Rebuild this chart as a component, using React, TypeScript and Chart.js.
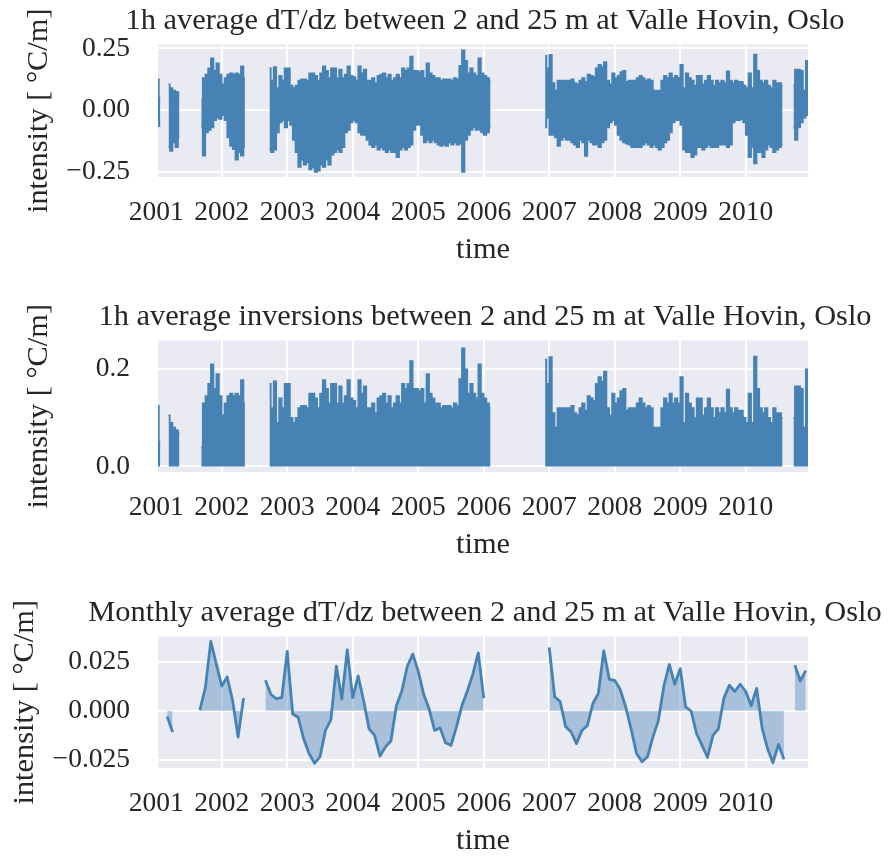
import React, { useEffect, useRef } from "react";
import { Chart, registerables } from "chart.js";

Chart.register(...registerables);

const FONT = "'Liberation Serif', 'Times New Roman', Times, serif";
const BLUE = "#4682b4";
const FILL = "rgba(70,130,180,0.4)";
const BG = "#eaeaf2";
const TEXT = "#262626";

const TITLE_TOP = "1h average dT/dz between 2 and 25 m at Valle Hovin, Oslo";
const TITLE_MID = "1h average inversions between 2 and 25 m at Valle Hovin, Oslo";
const TITLE_BOT = "Monthly average dT/dz between 2 and 25 m at Valle Hovin, Oslo";
const Y_LABEL = "intensity [ \u00b0C/m]";
const X_LABEL = "time";

const YEAR_TICKS = [2001, 2002, 2003, 2004, 2005, 2006, 2007, 2008, 2009, 2010];
const X_MIN = 2001.027;
const X_MAX = 2010.951;

// Hourly dT/dz, upper / lower envelope per half month (index k -> 2001 + (k + 0.5) / 24)
const gradHi2001 = [0.125, 0.05, null, null, 0.105, 0.09, 0.08, 0.075, 0.07, null, null, null, null, null, null, null, 0.04, 0.13, 0.145, 0.17, 0.21, 0.16, 0.19, 0.145];
const gradLo2001 = [-0.06, -0.065, null, null, -0.15, -0.165, -0.13, -0.15, -0.11, null, null, null, null, null, null, null, -0.07, -0.184, -0.09, -0.08, -0.07, -0.04, -0.03, -0.035];
const gradHi2002 = [0.105, 0.13, 0.145, 0.15, 0.145, 0.15, 0.145, 0.178, 0.13, null, null, null, null, null, null, null, null, 0.17, 0.12, 0.175, 0.09, 0.14, 0.12, 0.17];
const gradLo2002 = [-0.02, -0.04, -0.11, -0.145, -0.158, -0.2, -0.17, -0.184, -0.15, null, null, null, null, null, null, null, null, -0.16, -0.17, -0.16, -0.09, -0.05, -0.04, -0.07];
const gradHi2003 = [0.17, 0.1, 0.09, 0.1, 0.12, 0.125, 0.125, 0.12, 0.15, 0.15, 0.14, 0.12, 0.15, 0.178, 0.16, 0.13, 0.17, 0.17, 0.13, 0.165, 0.13, 0.145, 0.178, 0.14];
const gradLo2003 = [-0.04, -0.06, -0.12, -0.17, -0.23, -0.2, -0.22, -0.21, -0.24, -0.23, -0.25, -0.245, -0.22, -0.23, -0.2, -0.22, -0.18, -0.17, -0.16, -0.17, -0.15, -0.09, -0.08, -0.05];
const gradHi2004 = [0.135, 0.12, 0.178, 0.15, 0.165, 0.12, 0.12, 0.13, 0.11, 0.14, 0.145, 0.15, 0.13, 0.145, 0.12, 0.13, 0.145, 0.13, 0.17, 0.16, 0.17, 0.217, 0.16, 0.16];
const gradLo2004 = [-0.04, -0.05, -0.09, -0.1, -0.1, -0.12, -0.14, -0.15, -0.14, -0.16, -0.15, -0.16, -0.17, -0.16, -0.17, -0.17, -0.19, -0.16, -0.15, -0.16, -0.15, -0.14, -0.08, -0.06];
const gradHi2005 = [0.155, 0.16, 0.13, 0.19, 0.15, 0.14, 0.13, 0.13, 0.12, 0.125, 0.125, 0.125, 0.12, 0.13, 0.125, 0.18, 0.243, 0.2, 0.15, 0.17, 0.15, 0.14, 0.21, 0.15];
const gradLo2005 = [-0.06, -0.1, -0.13, -0.12, -0.13, -0.12, -0.13, -0.14, -0.145, -0.14, -0.145, -0.13, -0.14, -0.13, -0.14, -0.135, -0.25, -0.12, -0.1, -0.08, -0.07, -0.08, -0.08, -0.09];
const gradHi2006 = [0.14, 0.13, 0.12, null, null, null, null, null, null, null, null, null, null, null, null, null, null, null, null, null, null, null, 0.22, 0.17];
const gradLo2006 = [-0.1, -0.09, -0.07, null, null, null, null, null, null, null, null, null, null, null, null, null, null, null, null, null, null, null, -0.07, -0.03];
const gradHi2007 = [0.225, 0.11, 0.08, 0.12, 0.12, 0.12, 0.12, 0.12, 0.125, 0.11, 0.105, 0.12, 0.13, 0.115, 0.145, 0.14, 0.135, 0.17, 0.184, 0.175, 0.195, 0.12, 0.105, 0.15];
const gradLo2007 = [-0.1, -0.1, -0.11, -0.145, -0.12, -0.11, -0.12, -0.12, -0.13, -0.14, -0.15, -0.12, -0.13, -0.185, -0.12, -0.13, -0.14, -0.14, -0.15, -0.13, -0.12, -0.07, -0.05, -0.04];
const gradHi2008 = [0.13, 0.14, 0.155, 0.16, 0.115, 0.12, 0.12, 0.12, 0.13, 0.14, 0.13, 0.12, 0.125, 0.12, 0.08, 0.08, 0.08, 0.12, 0.14, 0.13, 0.15, 0.13, 0.14, 0.13];
const gradLo2008 = [-0.06, -0.1, -0.12, -0.13, -0.135, -0.14, -0.15, -0.15, -0.15, -0.15, -0.14, -0.13, -0.14, -0.15, -0.14, -0.15, -0.16, -0.15, -0.13, -0.12, -0.09, -0.05, -0.04, -0.04];
const gradHi2009 = [0.184, 0.09, 0.15, 0.13, 0.12, 0.1, 0.14, 0.14, 0.105, 0.12, 0.14, 0.12, 0.1, 0.12, 0.11, 0.12, 0.11, 0.158, 0.12, 0.11, 0.12, 0.115, 0.115, 0.1];
const gradLo2009 = [-0.06, -0.16, -0.17, -0.17, -0.19, -0.18, -0.15, -0.15, -0.16, -0.15, -0.14, -0.15, -0.15, -0.15, -0.14, -0.14, -0.14, -0.15, -0.14, -0.05, -0.04, -0.04, -0.035, -0.05];
const gradHi2010 = [0.09, 0.15, 0.09, 0.226, 0.16, 0.12, 0.11, 0.12, 0.1, 0.09, 0.12, 0.11, 0.11, 0.1, null, null, null, 0.1, 0.165, 0.165, 0.16, 0.08, 0.2, 0.2];
const gradLo2010 = [-0.1, -0.19, -0.15, -0.215, -0.17, -0.17, -0.19, -0.16, -0.14, -0.15, -0.17, -0.16, -0.15, -0.14, null, null, null, -0.07, -0.12, -0.07, -0.05, -0.03, -0.02, -0.02];

// Monthly averages of dT/dz (Jan..Dec)
const month2001 = [null, null, -0.0029, -0.0109, null, null, null, null, 0.0003, 0.0118, 0.0354, 0.0239];
const month2002 = [0.0126, 0.0172, 0.0051, -0.0135, 0.0064, null, null, null, 0.0155, 0.0084, 0.0061, 0.0067];
const month2003 = [0.0303, -0.0017, -0.0034, -0.0143, -0.0219, -0.0269, -0.0236, -0.0101, -0.0047, 0.0227, 0.0059, 0.0311];
const month2004 = [0.0067, 0.0177, 0.0051, -0.0093, -0.0126, -0.0232, -0.0185, -0.0155, 0.0025, 0.0101, 0.0227, 0.0289];
const month2005 = [0.0202, 0.0084, 0.0008, -0.0101, -0.0088, -0.0164, -0.0177, -0.0084, 0.0025, 0.0101, 0.0185, 0.0295];
const month2006 = [0.0064, null, null, null, null, null, null, null, null, null, null, null];
const month2007 = [0.0323, 0.0071, 0.0047, -0.0081, -0.0109, -0.0168, -0.0101, -0.0076, 0.0037, 0.0088, 0.0306, 0.016];
const month2008 = [0.0155, 0.0109, 0.002, -0.0093, -0.0219, -0.0261, -0.0236, -0.0135, -0.0051, 0.0126, 0.0236, 0.0135];
const month2009 = [0.0215, 0.002, -0.0003, -0.0118, -0.0177, -0.0239, -0.0126, -0.0093, 0.0064, 0.013, 0.0098, 0.0135];
const month2010 = [0.0098, 0.0025, 0.0114, -0.0088, -0.0194, -0.0266, -0.0172, -0.0249, null, 0.0232, 0.0152, 0.0205];

const gradHi = [gradHi2001, gradHi2002, gradHi2003, gradHi2004, gradHi2005, gradHi2006, gradHi2007, gradHi2008, gradHi2009, gradHi2010].flat();
const gradLo = [gradLo2001, gradLo2002, gradLo2003, gradLo2004, gradLo2005, gradLo2006, gradLo2007, gradLo2008, gradLo2009, gradLo2010].flat();
const monthly = [month2001, month2002, month2003, month2004, month2005, month2006, month2007, month2008, month2009, month2010].flat();

type Pt = { x: number; y: number | null };

function halfMonthPts(vals: (number | null)[]): Pt[] {
  return vals.map((v, k) => ({ x: 2001 + (k + 0.5) / 24, y: v }));
}

function monthlyPts(vals: (number | null)[]): Pt[] {
  return vals.map((v, i) => ({ x: 2001 + i / 12, y: v }));
}

const fmt = (v: number, d: number) => (v < 0 ? "\u2212" : "") + Math.abs(v).toFixed(d);

const bgPlugin = {
  id: "areaBg",
  beforeDraw(chart: any) {
    const { ctx, chartArea: a } = chart;
    ctx.save();
    ctx.fillStyle = BG;
    ctx.fillRect(a.left, a.top, a.right - a.left, a.bottom - a.top);
    ctx.restore();
  },
};

const textPlugin = {
  id: "panelText",
  afterDraw(chart: any, _args: any, o: any) {
    const { ctx, chartArea: a } = chart;
    ctx.save();
    ctx.fillStyle = TEXT;
    ctx.font = `30.4px ${FONT}`;
    ctx.textAlign = "center";
    ctx.textBaseline = "alphabetic";
    const cx = (a.left + a.right) / 2;
    ctx.fillText(o.title, cx + 2, a.top - 16);
    ctx.fillText(X_LABEL, cx, a.bottom + 81);
    ctx.translate(o.yLabelX, (a.top + a.bottom) / 2);
    ctx.rotate(-Math.PI / 2);
    ctx.fillText(Y_LABEL, 0, 0);
    ctx.restore();
  },
};

type Panel = {
  height: number;
  areaTop: number;
  areaBottom: number;
  title: string;
  yMin: number;
  yMax: number;
  yTicks: number[];
  decimals: number;
  yLabelX: number;
  datasets: any[];
};

function makeConfig(p: Panel): any {
  const XH = 70;
  return {
    type: "line",
    data: { datasets: p.datasets },
    plugins: [bgPlugin, textPlugin],
    options: {
      responsive: false,
      animation: false,
      devicePixelRatio: 1,
      layout: { padding: { top: p.areaTop, left: 0, right: 84, bottom: p.height - p.areaBottom - XH } },
      plugins: {
        legend: { display: false },
        tooltip: { enabled: false },
        panelText: { title: p.title, yLabelX: p.yLabelX },
      },
      elements: { point: { radius: 0 }, line: { tension: 0 } },
      scales: {
        x: {
          type: "linear",
          min: X_MIN,
          max: X_MAX,
          afterBuildTicks: (s: any) => {
            s.ticks = YEAR_TICKS.map((v) => ({ value: v }));
          },
          afterFit: (s: any) => {
            s.height = XH;
          },
          grid: { color: "#ffffff", lineWidth: 2, drawTicks: false },
          border: { display: false },
          ticks: {
            autoSkip: false,
            maxRotation: 0,
            padding: 19,
            color: TEXT,
            font: { family: FONT, size: 27.5 },
            callback: (v: any) => String(v),
          },
        },
        y: {
          type: "linear",
          min: p.yMin,
          max: p.yMax,
          afterBuildTicks: (s: any) => {
            s.ticks = p.yTicks.map((v) => ({ value: v }));
          },
          afterFit: (s: any) => {
            s.width = 158;
          },
          grid: { color: "#ffffff", lineWidth: 2, drawTicks: false },
          border: { display: false },
          ticks: {
            padding: 28,
            color: TEXT,
            font: { family: FONT, size: 27.5 },
            callback: (v: any) => fmt(Number(v), p.decimals),
          },
        },
      },
    },
  };
}

const bandStyle = {
  stepped: "middle",
  borderColor: BLUE,
  borderWidth: 1.5,
  backgroundColor: BLUE,
  spanGaps: false,
};

const PANELS: Panel[] = [
  {
    height: 296,
    areaTop: 44,
    areaBottom: 177,
    title: TITLE_TOP,
    yMin: -0.27,
    yMax: 0.266,
    yTicks: [-0.25, 0, 0.25],
    decimals: 2,
    yLabelX: 47,
    datasets: [
      { ...bandStyle, data: halfMonthPts(gradHi), fill: "+1" },
      { ...bandStyle, data: halfMonthPts(gradLo), fill: false },
    ],
  },
  {
    height: 296,
    areaTop: 43,
    areaBottom: 176,
    title: TITLE_MID,
    yMin: -0.0115,
    yMax: 0.259,
    yTicks: [0, 0.2],
    decimals: 1,
    yLabelX: 47,
    datasets: [{ ...bandStyle, data: halfMonthPts(gradHi), fill: "origin" }],
  },
  {
    height: 264,
    areaTop: 43,
    areaBottom: 176,
    title: TITLE_BOT,
    yMin: -0.0293,
    yMax: 0.0379,
    yTicks: [-0.025, 0, 0.025],
    decimals: 3,
    yLabelX: 33,
    datasets: [
      {
        data: monthlyPts(monthly),
        borderColor: BLUE,
        borderWidth: 2.8,
        borderJoinStyle: "round",
        backgroundColor: FILL,
        fill: "origin",
        spanGaps: false,
      },
    ],
  },
];

const TOPS = [0, 296, 592];

export default function App() {
  const r0 = useRef<HTMLCanvasElement>(null);
  const r1 = useRef<HTMLCanvasElement>(null);
  const r2 = useRef<HTMLCanvasElement>(null);

  useEffect(() => {
    const refs = [r0, r1, r2];
    const charts = PANELS.map((p, i) => new Chart(refs[i].current as HTMLCanvasElement, makeConfig(p)));
    return () => charts.forEach((c) => c.destroy());
  }, []);

  const refs = [r0, r1, r2];
  return (
    <div style={{ position: "absolute", left: 0, top: 0, width: 892, height: 856, background: "#ffffff" }}>
      {PANELS.map((p, i) => (
        <canvas
          key={i}
          ref={refs[i]}
          width={892}
          height={p.height}
          style={{ position: "absolute", left: 0, top: TOPS[i], width: 892, height: p.height }}
        />
      ))}
    </div>
  );
}
